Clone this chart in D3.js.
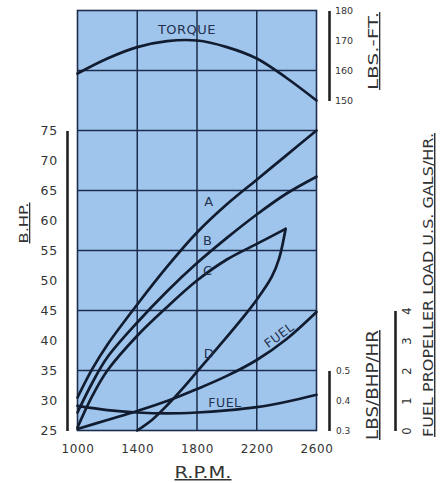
<!DOCTYPE html>
<head>
<meta charset="utf-8">
<script src="https://d3js.org/d3.v7.min.js"></script>
<style>
  body { margin: 0; background: #fff; }
  text { font-family: "DejaVu Sans", sans-serif; }
</style>
</head>
<body>
<div id="chart"></div>
<script>
// tick values
var rpmTicks = [1000, 1400, 1800, 2200, 2600];
var hpTicks = [25, 30, 35, 40, 45, 50, 55, 60, 65, 70, 75];
var torqueTicks = [150, 160, 170, 180];
var sfcTicks = [0.3, 0.4, 0.5];
var galTicks = [0, 1, 2, 3, 4];

// torque, lbs-ft
var torqueRpm = [1000, 1200, 1400, 1600, 1800, 2000, 2200, 2400, 2600];
var torque    = [159, 164, 167.8, 169.8, 170, 167.8, 164, 157.5, 150];

// brake horsepower curves
var rpmA = [1000, 1100, 1200, 1400, 1600, 1800, 2000, 2200, 2400, 2600];
var hpA  = [30.5, 35.3, 39.3, 46, 52.3, 58, 62.7, 66.8, 70.9, 75];
var rpmB = [1000, 1100, 1200, 1400, 1600, 1800, 2000, 2200, 2400, 2600];
var hpB  = [28, 33, 37.2, 43, 48.2, 52.9, 57.1, 61, 64.5, 67.3];
var rpmC = [1000, 1100, 1200, 1400, 1600, 1800, 2000, 2200, 2393];
var hpC  = [25.5, 30.8, 35, 40.8, 45.6, 50, 53.5, 56.1, 58.6];
var rpmD = [1400, 1500, 1600, 1700, 1800, 1900, 2000, 2100, 2200, 2300, 2350, 2393];
var hpD  = [25, 26.8, 29.2, 31.9, 34.8, 37.7, 40.6, 43.6, 46.8, 50.6, 53.7, 58.6];

// fuel, propeller load (US gals/hr)
var fuelGalRpm = [1000, 1200, 1400, 1600, 1800, 2000, 2200, 2400, 2600];
var fuelGal    = [0.05, 0.35, 0.65, 0.98, 1.38, 1.82, 2.35, 3.05, 3.95];

// fuel, lbs/bhp/hr
var fuelSfcRpm = [1000, 1200, 1400, 1600, 1800, 2000, 2200, 2400, 2600];
var fuelSfc    = [0.382, 0.368, 0.36, 0.357, 0.36, 0.367, 0.378, 0.396, 0.419];

var W = 443, H = 483;
var ink = "#111c30", gridCol = "#1d2d4d", txt = "#333", blue = "#a0c5ec";

var svg = d3.select("#chart").append("svg")
    .attr("width", W).attr("height", H);

var x = d3.scaleLinear().domain([1000, 2600]).range([77.5, 316.5]);
var yHP = d3.scaleLinear().domain([25, 95]).range([430.5, 10.5]);
var yTq = d3.scaleLinear().domain([150, 180]).range([100.5, 10.5]);
var ySfc = d3.scaleLinear().domain([0.3, 0.5]).range([430.5, 370.5]);
var yGal = d3.scaleLinear().domain([0, 4]).range([430.5, 310.5]);

// plot background
svg.append("rect")
    .attr("x", x(1000)).attr("y", yHP(95))
    .attr("width", x(2600) - x(1000)).attr("height", yHP(25) - yHP(95))
    .attr("fill", blue);

// grid
svg.selectAll(".vgrid").data([1400, 1800, 2200]).enter().append("line")
    .attr("x1", function(d) { return x(d) }).attr("x2", function(d) { return x(d) })
    .attr("y1", yHP(95)).attr("y2", yHP(25))
    .attr("stroke", gridCol).attr("stroke-width", 1.5);
svg.selectAll(".hgrid").data([35, 45, 55, 65, 75, 85]).enter().append("line")
    .attr("x1", x(1000)).attr("x2", x(2600))
    .attr("y1", function(d) { return yHP(d) }).attr("y2", function(d) { return yHP(d) })
    .attr("stroke", gridCol).attr("stroke-width", 1.5);

svg.append("rect")
    .attr("x", x(1000)).attr("y", yHP(95))
    .attr("width", x(2600) - x(1000)).attr("height", yHP(25) - yHP(95))
    .attr("fill", "none").attr("stroke", gridCol).attr("stroke-width", 1.6);

// curves
function drawCurve(xs, ys, yScale) {
    var pts = xs.map(function(v, i) { return [v, ys[i]] });
    var line = d3.line()
        .x(function(d) { return x(d[0]) })
        .y(function(d) { return yScale(d[1]) })
        .curve(d3.curveCatmullRom.alpha(0.5));
    svg.append("path")
        .attr("d", line(pts))
        .attr("fill", "none")
        .attr("stroke", ink)
        .attr("stroke-width", 2.7)
        .attr("stroke-linecap", "round")
        .attr("stroke-linejoin", "round");
}

drawCurve(torqueRpm, torque, yTq);
drawCurve(rpmA, hpA, yHP);
drawCurve(rpmB, hpB, yHP);
drawCurve(rpmC, hpC, yHP);
drawCurve(rpmD, hpD, yHP);
drawCurve(fuelGalRpm, fuelGal, yGal);
drawCurve(fuelSfcRpm, fuelSfc, ySfc);

// labels inside the plot
function plotLabel(s, r, hp, size, rot) {
    var px = x(r), py = yHP(hp);
    svg.append("text")
        .attr("x", px).attr("y", py)
        .attr("text-anchor", "middle")
        .attr("dominant-baseline", "central")
        .attr("transform", rot ? "rotate(" + rot + "," + px + "," + py + ")" : null)
        .attr("fill", "#24324f")
        .style("font-size", size + "px")
        .style("letter-spacing", "0.5px")
        .text(s);
}
plotLabel("TORQUE", 1733, 91.9, 13);
plotLabel("A", 1880, 63.1, 13);
plotLabel("B", 1872, 56.6, 13);
plotLabel("C", 1872, 51.6, 13);
plotLabel("D", 1880, 37.9, 13);
plotLabel("FUEL", 1987, 29.6, 12.5);
plotLabel("FUEL", 2349, 40.9, 12.5, -36);

// axes
function styleAxis(g) {
    g.select(".domain").attr("stroke", "#222").attr("stroke-width", 2.6);
    g.selectAll("text").attr("fill", txt).style("font-family", "DejaVu Sans, sans-serif");
}

var hpAxisScale = d3.scaleLinear().domain([25, 75]).range([yHP(25), yHP(75)]);
svg.append("g")
    .attr("transform", "translate(67,0)")
    .call(d3.axisLeft(hpAxisScale).tickValues(hpTicks).tickSize(0).tickPadding(9))
    .call(styleAxis)
    .selectAll("text").style("font-size", "12.5px").style("letter-spacing", "0.8px");

svg.append("g")
    .attr("transform", "translate(0," + (yHP(25) + 14) + ")")
    .call(d3.axisBottom(x).tickValues(rpmTicks).tickSize(0).tickPadding(0).tickFormat(d3.format("d")))
    .call(function(g) { g.select(".domain").remove(); })
    .call(styleAxis)
    .selectAll("text").style("font-size", "12px").style("letter-spacing", "0.6px");

svg.append("g")
    .attr("transform", "translate(329,0)")
    .call(d3.axisRight(yTq).tickValues(torqueTicks).tickSize(0).tickPadding(6))
    .call(styleAxis)
    .selectAll("text").style("font-size", "9.5px");

svg.append("g")
    .attr("transform", "translate(329,0)")
    .call(d3.axisRight(ySfc).tickValues(sfcTicks).tickSize(0).tickPadding(7).tickFormat(d3.format(".1f")))
    .call(styleAxis)
    .selectAll("text").style("font-size", "9px");

var galAxis = svg.append("g")
    .attr("transform", "translate(395,0)")
    .call(d3.axisRight(yGal).tickValues(galTicks).tickSize(0).tickFormat(d3.format("d")))
    .call(styleAxis);
galAxis.selectAll("text")
    .attr("x", 0).attr("y", 16).attr("dy", null)
    .attr("text-anchor", "middle")
    .attr("transform", "rotate(-90)")
    .style("font-size", "11.5px");

// axis titles
function title(s, px, py, len, size, rot) {
    svg.append("text")
        .attr("x", px).attr("y", py)
        .attr("text-anchor", "middle")
        .attr("transform", rot ? "rotate(" + rot + "," + px + "," + py + ")" : null)
        .attr("textLength", len)
        .attr("lengthAdjust", "spacingAndGlyphs")
        .attr("fill", txt)
        .style("font-size", size + "px")
        .style("text-decoration", "underline")
        .text(s);
}
title("B.HP.", 28, 223, 41, 13, -90);
title("R.P.M.", 203, 478, 57, 15);
title("LBS.-FT.", 378, 51, 78, 13.5, -90);
title("LBS/BHP/HR", 378, 385, 110, 15, -90);
title("FUEL PROPELLER LOAD  U.S. GALS/HR.", 433, 285, 304, 14.5, -90);
</script>
</body>
